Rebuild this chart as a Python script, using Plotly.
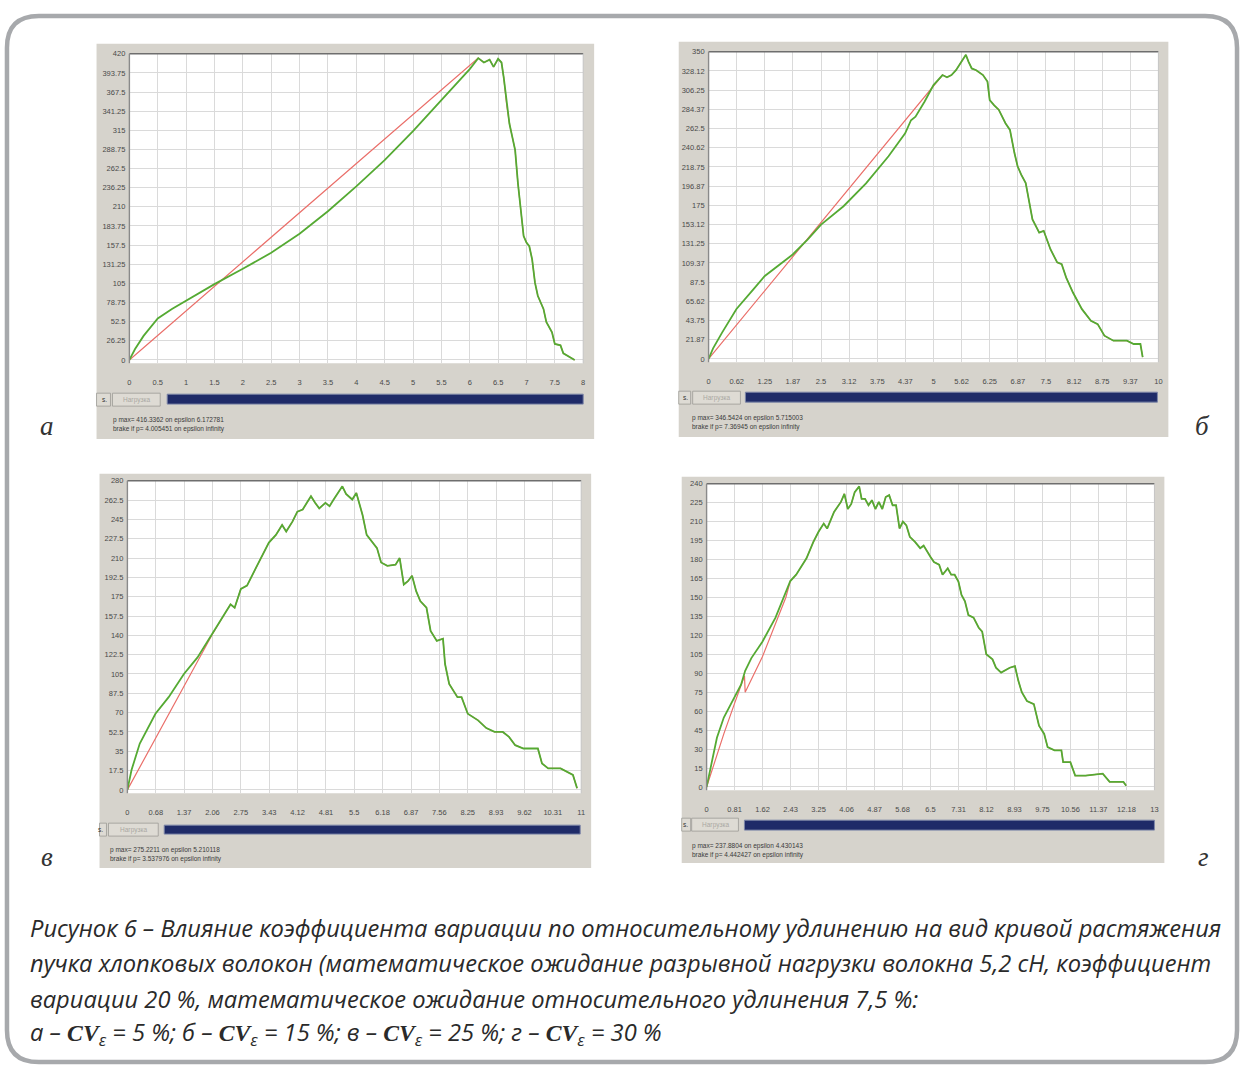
import numpy as np
import plotly.graph_objects as go

W, H = 1246, 1070

# ---------------- DATA ----------------
# Panel а (CVε = 5 %)
a_x_ticks = ["0", "0.5", "1", "1.5", "2", "2.5", "3", "3.5", "4", "4.5", "5", "5.5", "6", "6.5", "7", "7.5", "8"]
a_y_ticks = ["0", "26.25", "52.5", "78.75", "105", "131.25", "157.5", "183.75", "210", "236.25", "262.5",
             "288.75", "315", "341.25", "367.5", "393.75", "420"]
a_green_x = [0, 0.1, 0.25, 0.5, 0.75, 1, 1.5, 2, 2.5, 3, 3.5, 4, 4.5, 5, 5.5, 6, 6.15, 6.25, 6.35, 6.42,
             6.5, 6.56, 6.6, 6.65, 6.7, 6.75, 6.8, 6.85, 6.9, 6.95, 7.0, 7.05, 7.1, 7.15, 7.2, 7.3, 7.35,
             7.45, 7.5, 7.6, 7.65, 7.7, 7.8, 7.85]
a_green_y = [0, 15, 33, 57, 70, 81.5, 104, 125, 147, 173, 204, 238, 274, 314, 356, 399, 414, 408, 412, 402,
             413, 408, 387, 351, 324, 306, 288, 242, 206, 170, 161, 156, 138, 106, 88, 70, 52,
             38, 22, 20, 9, 7, 3, 0]
a_red_x = [0, 6.15]
a_red_y = [0, 414]
a_info = ["p max= 416.3362 on epsilon 6.172781", "brake if p= 4.005451 on epsilon infinity"]

# Panel б (CVε = 15 %)
b_x_ticks = ["0", "0.62", "1.25", "1.87", "2.5", "3.12", "3.75", "4.37", "5", "5.62", "6.25", "6.87",
             "7.5", "8.12", "8.75", "9.37", "10"]
b_y_ticks = ["0", "21.87", "43.75", "65.62", "87.5", "109.37", "131.25", "153.12", "175", "196.87",
             "218.75", "240.62", "262.5", "284.37", "306.25", "328.12", "350"]
b_green_x = [0, 0.1, 0.3, 0.62, 1.0, 1.25, 1.87, 2.2, 2.5, 3.0, 3.5, 4.0, 4.37, 4.5, 4.6, 4.8, 5.0, 5.1,
             5.2, 5.3, 5.4, 5.5, 5.62, 5.72, 5.78, 5.85, 5.95, 6.1, 6.2, 6.25, 6.35, 6.45, 6.6, 6.7, 6.8,
             6.87, 6.95, 7.05, 7.2, 7.35, 7.45, 7.6, 7.75, 7.85, 7.95, 8.1, 8.3, 8.5, 8.65, 8.8, 9.0,
             9.3, 9.45, 9.6, 9.65]
b_green_y = [0, 12, 30, 57, 79.5, 94.6, 119, 136, 153, 174, 200, 231, 257, 272, 276, 293, 312, 318,
             323.5, 321, 323.5, 329, 338.6, 346.5, 338.6, 331, 329, 323.5, 316, 295, 289, 284, 268.6, 261,
             234.6, 219.5, 210, 200.5, 159, 144, 146, 125, 110, 108, 92.7, 75.7, 56.7, 43.5, 39.7, 26.5,
             20.8, 20.8, 17, 17, 2]
b_red_x = [0, 5.0]
b_red_y = [0, 312]
b_info = ["p max= 346.5424 on epsilon 5.715003", "brake if p= 7.36945 on epsilon infinity"]

# Panel в (CVε = 25 %)
c_x_ticks = ["0", "0.68", "1.37", "2.06", "2.75", "3.43", "4.12", "4.81", "5.5", "6.18", "6.87", "7.56",
             "8.25", "8.93", "9.62", "10.31", "11"]
c_y_ticks = ["0", "17.5", "35", "52.5", "70", "87.5", "105", "122.5", "140", "157.5", "175", "192.5",
             "210", "227.5", "245", "262.5", "280"]
c_green_x = [0, 0.1, 0.3, 0.5, 0.68, 1.0, 1.37, 1.7, 2.06, 2.4, 2.5, 2.6, 2.75, 2.9, 3.1, 3.3, 3.43, 3.6,
             3.75, 3.85, 4.0, 4.12, 4.25, 4.35, 4.45, 4.55, 4.65, 4.8, 4.9, 5.0, 5.1, 5.21, 5.3, 5.45,
             5.55, 5.65, 5.7, 5.8, 5.95, 6.05, 6.15, 6.3, 6.5, 6.6, 6.7, 6.8, 6.9, 7.0, 7.1, 7.25, 7.35,
             7.5, 7.65, 7.7, 7.8, 8.0, 8.1, 8.25, 8.5, 8.7, 8.9, 9.1, 9.25, 9.4, 9.6, 9.8, 9.95, 10.05,
             10.2, 10.5, 10.7, 10.8, 10.9]
c_green_y = [0, 18, 42, 57, 69, 84, 105, 120, 141, 162, 168, 165, 182, 185, 200, 215, 224, 231,
             240, 234, 243, 252, 254, 260, 266, 260, 255, 260, 257, 263, 269, 275, 268, 263,
             269, 257, 249, 231, 224, 219, 206, 203, 204, 210, 186, 189, 194, 180, 171, 165, 144,
             135, 137, 114, 96, 84, 84, 69, 63, 56, 52.5, 52.5, 48, 40.5, 37.5, 37.5, 37.5, 24,
             19.5, 19.5, 15, 13.5, 1.5]
c_red_x = [0, 2.06]
c_red_y = [0, 141]
c_info = ["p max= 275.2211 on epsilon 5.210118", "brake if p= 3.537976 on epsilon infinity"]

# Panel г (CVε = 30 %)
d_x_ticks = ["0", "0.81", "1.62", "2.43", "3.25", "4.06", "4.87", "5.68", "6.5", "7.31", "8.12", "8.93",
             "9.75", "10.56", "11.37", "12.18", "13"]
d_y_ticks = ["0", "15", "30", "45", "60", "75", "90", "105", "120", "135", "150", "165", "180", "195",
             "210", "225", "240"]
d_green_x = [0, 0.1, 0.3, 0.5, 0.81, 1.0, 1.12, 1.3, 1.62, 2.0, 2.43, 2.6, 2.9, 3.1, 3.25, 3.4, 3.5, 3.7,
             3.9, 4.0, 4.1, 4.2, 4.3, 4.43, 4.5, 4.6, 4.7, 4.8, 4.9, 5.0, 5.1, 5.2, 5.3, 5.4, 5.5, 5.6,
             5.7, 5.8, 5.9, 6.05, 6.2, 6.3, 6.5, 6.6, 6.75, 6.85, 7.0, 7.1, 7.2, 7.31, 7.4, 7.5, 7.6,
             7.75, 7.9, 8.0, 8.12, 8.3, 8.4, 8.55, 8.8, 8.95, 9.05, 9.15, 9.3, 9.5, 9.65, 9.8, 9.9,
             10.1, 10.3, 10.35, 10.56, 10.7, 11.0, 11.5, 11.7, 12.1, 12.18]
d_green_y = [0, 13, 39, 55, 71, 81, 92, 102, 115, 134, 163, 168, 181, 194, 202, 208.5, 204.5, 217.7,
             225.6, 232, 220, 224, 233.4, 237.9, 228, 228, 223, 227, 220, 225.6, 220, 229.5, 231, 223,
             223, 204.6, 210, 207, 198, 194, 189, 191, 182, 178, 176, 168, 173, 168, 168, 162.6, 152,
             147, 136, 134, 126, 123, 105, 101, 94.4, 90.5, 94.4, 95.7, 84, 75, 68, 65.6, 48.5, 42,
             31.5, 29, 29, 19.7, 19.7, 9, 9, 10.5, 4, 4, 1]
d_red_x = [0, 0.5, 0.81, 1.1, 1.12, 1.62, 2.3]
d_red_y = [0, 42, 66, 88, 75, 103, 150]
d_info = ["p max= 237.8804 on epsilon 4.430143", "brake if p= 4.442427 on epsilon infinity"]

panel_letters = ["а", "б", "в", "г"]
button_label = "Нагрузка"

caption_lines = [
    "Рисунок 6 – Влияние коэффициента вариации по относительному удлинению на вид кривой растяжения",
    "пучка хлопковых волокон (математическое ожидание разрывной нагрузки волокна 5,2 сН, коэффициент",
    "вариации 20 %, математическое ожидание относительного удлинения 7,5 %:",
]
cv_cases = [("а", "5"), ("б", "15"), ("в", "25"), ("г", "30")]

datasets = [
    (a_x_ticks, a_y_ticks, a_green_x, a_green_y, a_red_x, a_red_y, a_info),
    (b_x_ticks, b_y_ticks, b_green_x, b_green_y, b_red_x, b_red_y, b_info),
    (c_x_ticks, c_y_ticks, c_green_x, c_green_y, c_red_x, c_red_y, c_info),
    (d_x_ticks, d_y_ticks, d_green_x, d_green_y, d_red_x, d_red_y, d_info),
]

# ---------------- LAYOUT (pixel geometry) ----------------
geom = [
    dict(plot=(128, 50, 584, 361), box=(95, 40, 595, 437), b1=(95, 391, 109, 404), b2=(111, 391, 159, 404),
         bar=(166, 392, 584, 402), info=(110, 418), letter=(45, 424)),
    dict(plot=(710, 48, 1162, 360), box=(680, 38, 1172, 435), b1=(680, 389, 692, 402), b2=(694, 389, 742, 402),
         bar=(747, 390, 1161, 400), info=(691, 416), letter=(1206, 424)),
    dict(plot=(126, 479, 582, 793), box=(98, 472, 592, 868), b1=(98, 823, 105, 836), b2=(107, 823, 157, 836),
         bar=(163, 825, 581, 834), info=(107, 850), letter=(45, 857)),
    dict(plot=(708, 482, 1158, 790), box=(683, 475, 1168, 863), b1=(683, 818, 692, 831), b2=(693, 818, 740, 831),
         bar=(746, 820, 1158, 830), info=(691, 846), letter=(1207, 857)),
]


def fx(px):
    return px / W


def fy(py):
    return 1 - py / H


PANEL_GRAY = "#d6d3cc"
GRID = "#dadada"
RED = "#ea6f6a"
GREEN = "#55aa33"
TICKFONT = dict(family="Liberation Sans", size=7.5, color="#4a4a4a")

fig = go.Figure()
shapes = []
annotations = []

# rounded outer border
x0, y0, x1, y1, r = 5, 12, 1241, 1063, 32
pts = [
    ("M", x0 + r, y0), ("L", x1 - r, y0), ("Q", x1, y0, x1, y0 + r), ("L", x1, y1 - r),
    ("Q", x1, y1, x1 - r, y1), ("L", x0 + r, y1), ("Q", x0, y1, x0, y1 - r), ("L", x0, y0 + r),
    ("Q", x0, y0, x0 + r, y0),
]
path = ""
for p in pts:
    cmd = p[0]
    coords = p[1:]
    segs = []
    for i in range(0, len(coords), 2):
        segs.append(f"{fx(coords[i]):.6f},{fy(coords[i + 1]):.6f}")
    path += cmd + " " + " ".join(segs) + " "
path += "Z"
shapes.append(dict(type="path", xref="paper", yref="paper", path=path,
                   line=dict(color="#a7a9ac", width=4.5), fillcolor="rgba(0,0,0,0)", layer="below"))

for i, (ds, g) in enumerate(zip(datasets, geom)):
    xt, yt, gx, gy, rx, ry, info = ds
    xmax = float(xt[-1])
    ymax = float(yt[-1])
    L, T, R, B = g["plot"]
    n = "" if i == 0 else str(i + 1)
    xa, ya = "x" + n, "y" + n

    # red curve: loading line then coincides with green
    merge = rx[-1]
    red_x = list(rx) + [x for x in gx if x > merge]
    red_y = list(ry) + [y for x, y in zip(gx, gy) if x > merge]

    fig.add_trace(go.Scatter(x=red_x, y=red_y, mode="lines", line=dict(color=RED, width=1.2),
                             xaxis=xa, yaxis=ya, showlegend=False, hoverinfo="skip"))
    fig.add_trace(go.Scatter(x=gx, y=gy, mode="lines", line=dict(color=GREEN, width=1.8),
                             xaxis=xa, yaxis=ya, showlegend=False, hoverinfo="skip"))

    xticks = np.linspace(0, xmax, len(xt))
    yticks = np.linspace(0, ymax, len(yt))
    fig.layout["xaxis" + n] = dict(domain=[fx(L), fx(R)], range=[0, xmax], anchor=ya,
                                   tickvals=xticks, ticktext=xt, showgrid=True, gridcolor=GRID, gridwidth=1,
                                   zeroline=False, showline=False, ticks="", ticklabelstandoff=13,
                                   tickfont=TICKFONT, fixedrange=True, tickangle=0)
    fig.layout["yaxis" + n] = dict(domain=[fy(B), fy(T)], range=[-0.011 * ymax, ymax], anchor=xa,
                                   tickvals=yticks, ticktext=yt, showgrid=True, gridcolor=GRID, gridwidth=1,
                                   zeroline=False, showline=False, ticks="", ticklabelstandoff=3,
                                   tickfont=TICKFONT, fixedrange=True)

    # panel gray box and white plot area
    bx0, by0, bx1, by1 = g["box"]
    shapes.append(dict(type="rect", xref="paper", yref="paper", x0=fx(bx0), x1=fx(bx1), y0=fy(by1), y1=fy(by0),
                       fillcolor=PANEL_GRAY, line=dict(width=0), layer="below"))
    shapes.append(dict(type="rect", xref="paper", yref="paper", x0=fx(L), x1=fx(R), y0=fy(B), y1=fy(T),
                       fillcolor="white", line=dict(width=0), layer="below"))
    shapes.append(dict(type="line", xref="paper", yref="paper", x0=fx(L), x1=fx(R), y0=fy(T), y1=fy(T),
                       line=dict(color="#6e6e6e", width=1.6), layer="above"))
    shapes.append(dict(type="line", xref="paper", yref="paper", x0=fx(L), x1=fx(L), y0=fy(B), y1=fy(T),
                       line=dict(color="#8a8a8a", width=1.4), layer="above"))
    shapes.append(dict(type="line", xref="paper", yref="paper", x0=fx(R), x1=fx(R), y0=fy(B), y1=fy(T),
                       line=dict(color="#c4c4c4", width=1), layer="above"))

    # buttons
    for key in ("b1", "b2"):
        q0, r0, q1, r1 = g[key]
        shapes.append(dict(type="rect", xref="paper", yref="paper", x0=fx(q0), x1=fx(q1), y0=fy(r1), y1=fy(r0),
                           fillcolor="#dedbd4", line=dict(color="#9c9a95", width=0.8), layer="below"))
    q0, r0, q1, r1 = g["b2"]
    annotations.append(dict(x=fx((q0 + q1) / 2), y=fy((r0 + r1) / 2), xref="paper", yref="paper",
                            text=button_label, showarrow=False, xanchor="center", yanchor="middle",
                            font=dict(family="Liberation Sans", size=6.5, color="#aaa8a3")))
    q0, r0, q1, r1 = g["b1"]
    annotations.append(dict(x=fx(q1 - 1), y=fy((r0 + r1) / 2), xref="paper", yref="paper",
                            text="s.", showarrow=False, xanchor="right", yanchor="middle",
                            font=dict(family="Liberation Sans", size=6.5, color="#333333")))
    # blue progress bar
    q0, r0, q1, r1 = g["bar"]
    shapes.append(dict(type="rect", xref="paper", yref="paper", x0=fx(q0), x1=fx(q1), y0=fy(r1), y1=fy(r0),
                       fillcolor="#1f2b68", line=dict(color="#7d86a8", width=1), layer="below"))
    # info text
    ix, iy = g["info"]
    for k, line in enumerate(info):
        annotations.append(dict(x=fx(ix), y=fy(iy + 9 * k), xref="paper", yref="paper", text=line,
                                showarrow=False, xanchor="left", yanchor="middle",
                                font=dict(family="Liberation Sans", size=6.5, color="#3a3a3a")))
    # panel letter
    lx, ly = g["letter"]
    annotations.append(dict(x=fx(lx), y=fy(ly), xref="paper", yref="paper", text="<i>" + panel_letters[i] + "</i>",
                            showarrow=False, xanchor="center", yanchor="middle",
                            font=dict(family="Liberation Serif", size=27, color="#333333")))

# caption
cap_y = [928, 964, 1000]
CAPFONT = dict(family="Open Sans", size=23.7, color="#2a2a2a")
for line, yy in zip(caption_lines, cap_y):
    annotations.append(dict(x=fx(26), y=fy(yy), xref="paper", yref="paper", text="<i>" + line + "</i>",
                            showarrow=False, xanchor="left", yanchor="middle", font=CAPFONT))
parts = []
for letter, val in cv_cases:
    parts.append(f"{letter} – <span style='font-family:Liberation Serif'><b>CV</b></span>"
                 f"<sub>ε</sub> = {val} %")
annotations.append(dict(x=fx(26), y=fy(1034), xref="paper", yref="paper", text="<i>" + "; ".join(parts) + "</i>",
                        showarrow=False, xanchor="left", yanchor="middle", font=CAPFONT))

fig.update_layout(width=W, height=H, margin=dict(l=0, r=0, t=0, b=0), paper_bgcolor="white",
                  plot_bgcolor="rgba(0,0,0,0)", shapes=shapes, annotations=annotations, showlegend=False)

fig.write_html("out.html", config={"displayModeBar": False},
               post_script="document.body.style.margin='0';document.body.style.padding='0';")
